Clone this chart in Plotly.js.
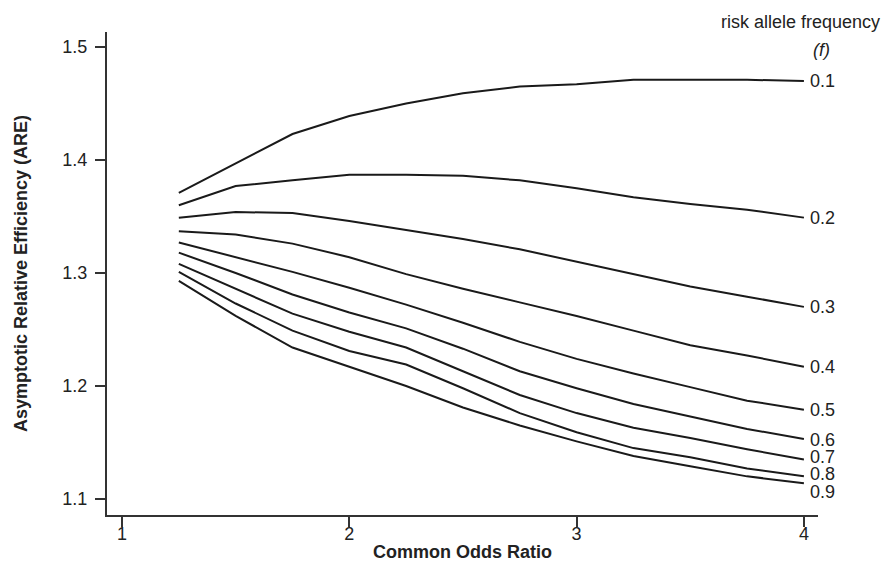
<!DOCTYPE html>
<html>
<head>
<meta charset="utf-8">
<script src="https://cdn.plot.ly/plotly-3.0.1.min.js"></script>
<style>html,body{margin:0;padding:0;background:#fff;}#chart{width:885px;height:562px;}</style>
</head>
<body>
<div id="chart"></div>
<script>
// Common odds ratio (x)
const oddsRatio = [1.25, 1.5, 1.75, 2, 2.25, 2.5, 2.75, 3, 3.25, 3.5, 3.75, 4];
// Risk allele frequencies (series names)
const freqLabels = ["0.1", "0.2", "0.3", "0.4", "0.5", "0.6", "0.7", "0.8", "0.9"];
// ARE values per frequency
const are_01 = [1.371, 1.397, 1.423, 1.439, 1.450, 1.459, 1.465, 1.467, 1.471, 1.471, 1.471, 1.470];
const are_02 = [1.360, 1.377, 1.382, 1.387, 1.387, 1.386, 1.382, 1.375, 1.367, 1.361, 1.356, 1.349];
const are_03 = [1.349, 1.354, 1.353, 1.346, 1.338, 1.330, 1.321, 1.310, 1.299, 1.288, 1.279, 1.270];
const are_04 = [1.337, 1.334, 1.326, 1.314, 1.299, 1.286, 1.274, 1.262, 1.249, 1.236, 1.227, 1.217];
const are_05 = [1.327, 1.314, 1.301, 1.287, 1.272, 1.256, 1.239, 1.224, 1.211, 1.199, 1.187, 1.179];
const are_06 = [1.318, 1.300, 1.281, 1.265, 1.251, 1.233, 1.213, 1.198, 1.184, 1.173, 1.162, 1.153];
const are_07 = [1.308, 1.286, 1.264, 1.248, 1.234, 1.213, 1.192, 1.176, 1.163, 1.154, 1.144, 1.135];
const are_08 = [1.301, 1.273, 1.249, 1.231, 1.219, 1.198, 1.176, 1.159, 1.145, 1.137, 1.127, 1.120];
const are_09 = [1.293, 1.262, 1.234, 1.217, 1.200, 1.181, 1.165, 1.151, 1.138, 1.129, 1.120, 1.114];
const seriesValues = [are_01, are_02, are_03, are_04, are_05, are_06, are_07, are_08, are_09];
// y positions of the right-hand labels (nudged apart where lines crowd)
const labelY = [1.470, 1.349, 1.270, 1.217, 1.179, 1.153, 1.1374, 1.1221, 1.1065];
// axis ticks
const xTicks = [1, 2, 3, 4];
const yTicks = [1.1, 1.2, 1.3, 1.4, 1.5];

const FONT = 'Liberation Sans, Arial, sans-serif';

const traces = seriesValues.map((vals, i) => ({
  x: oddsRatio, y: vals, type: 'scatter', mode: 'lines',
  name: freqLabels[i], showlegend: false, hoverinfo: 'skip',
  line: {color: '#1a1a1a', width: 2}
}));

const annotations = freqLabels.map((lab, i) => ({
  x: 4, y: labelY[i], xref: 'x', yref: 'y', text: lab, showarrow: false,
  xanchor: 'left', yanchor: 'middle', xshift: 4, height: 17, valign: 'middle',
  font: {family: FONT, size: 18, color: '#222'}
}));
annotations.push({
  xref: 'paper', yref: 'paper', x: 1.09, y: 1.0207, xanchor: 'right', yanchor: 'middle',
  text: 'risk allele frequency', showarrow: false,
  font: {family: FONT, size: 18, color: '#222'}
});
annotations.push({
  xref: 'paper', yref: 'paper', x: 1.0056, y: 0.963, xanchor: 'center', yanchor: 'middle',
  text: '<i>(f)</i>', showarrow: false,
  font: {family: FONT, size: 18, color: '#222'}
});

const layout = {
  width: 885, height: 562,
  margin: {l: 107, r: 67, t: 32, b: 47},
  paper_bgcolor: '#fff', plot_bgcolor: '#fff',
  font: {family: FONT, color: '#222'},
  xaxis: {
    range: [0.934, 4.062], tickvals: xTicks, ticktext: xTicks.map(String),
    showgrid: false, zeroline: false, showline: true, linecolor: '#333', linewidth: 2,
    ticks: 'outside', ticklen: 10, tickwidth: 2, tickcolor: '#333',
    ticklabelstandoff: -9,
    tickfont: {size: 18, color: '#222'},
    title: {text: '<b>Common Odds Ratio</b>', font: {size: 18, color: '#222'}, standoff: 12}
  },
  yaxis: {
    range: [1.0858, 1.5133], tickvals: yTicks, ticktext: yTicks.map(v => v.toFixed(1)),
    showgrid: false, zeroline: false, showline: true, linecolor: '#333', linewidth: 2,
    ticks: 'outside', ticklen: 10, tickwidth: 2, tickcolor: '#333',
    ticklabelstandoff: 4,
    tickfont: {size: 18, color: '#222'},
    title: {text: '<b>Asymptotic Relative Efficiency (ARE)</b>', font: {size: 18, color: '#222'}, standoff: 30}
  },
  annotations: annotations
};

Plotly.newPlot('chart', traces, layout, {staticPlot: true, displayModeBar: false});
</script>
</body>
</html>
